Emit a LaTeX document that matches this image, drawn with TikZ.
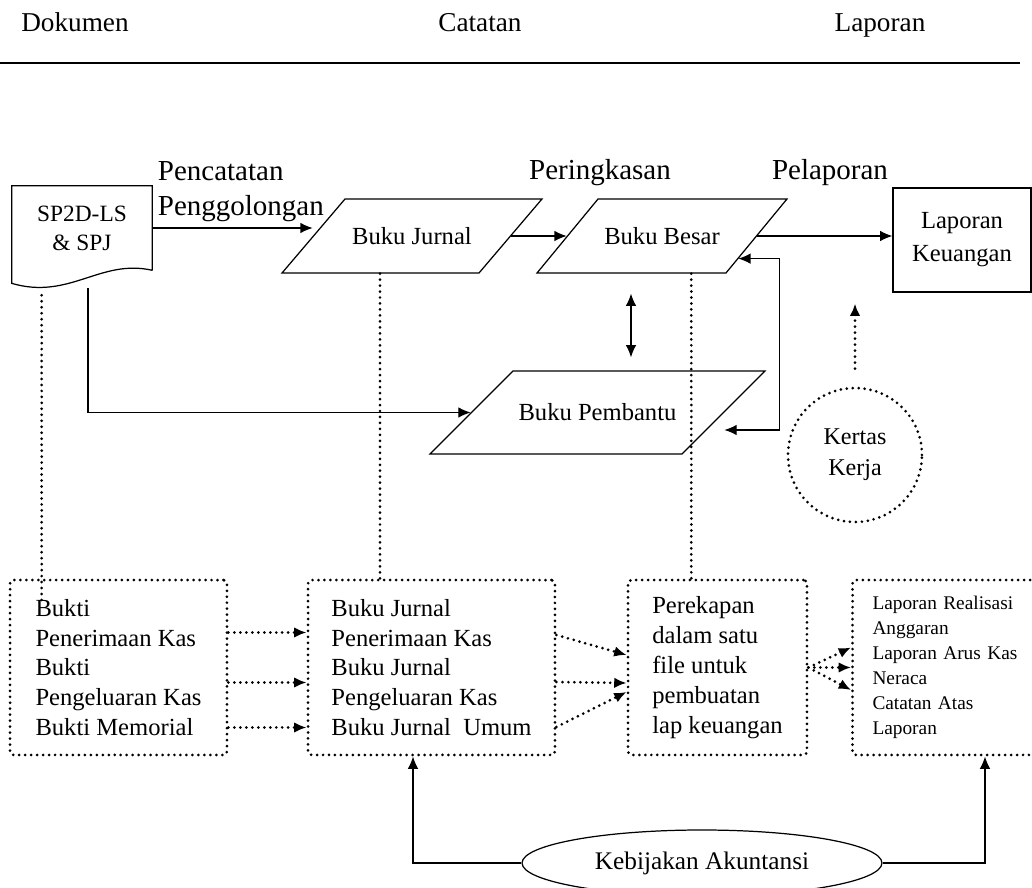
\documentclass[tikz,border=0pt]{standalone}
\usepackage{fontspec}
\setmainfont{Liberation Serif}
\usetikzlibrary{shapes.geometric,arrows.meta,calc}

\tikzset{
  every node/.style={font=\fontsize{14}{17}\selectfont},
  judul/.style={font=\fontsize{15.5}{18}\selectfont, anchor=base},
  lbl/.style={font=\fontsize{16.5}{19.8}\selectfont},
  conn/.style={line width=0.7pt},
  para/.style={trapezium, draw, conn, trapezium stretches body, inner sep=0pt},
  dotline/.style={line width=1.7pt, line cap=round, dash pattern=on 0pt off 3.4pt},
  dotbox/.style={draw, dotline, rounded corners=2pt, align=left, minimum height=3.5cm},
}

\begin{document}
\begin{tikzpicture}[x=0.02cm,y=-0.02cm,>={Latex[length=7pt,width=6pt]}]
\useasboundingbox (0,0) rectangle (1032,888);

% judul kolom
\node[judul] (hdok) at (75,32) {Dokumen};
\node[judul] (hcat) at (480,32) {Catatan};
\node[judul] (hlap) at (880,32) {Laporan};
\draw[line width=1pt] (0,63) -- (1020,63);

% dokumen sumber
\node[align=center, minimum width=2.8cm, minimum height=1.68cm,
      font=\fontsize{13.3}{16.4}\selectfont] (sp2d) at (82,228) {SP2D-LS\\\& SPJ};
\draw[conn] (sp2d.south east) -- (sp2d.north east) -- (sp2d.north west)
   -- ([yshift=-0.26cm]sp2d.south west)
   .. controls ($(sp2d.south west)+(58,30)$) and ($(sp2d.south east)+(-52,-12)$) .. (sp2d.south east);

% buku-buku
\node[para, trapezium left angle=49.6, trapezium right angle=130.4,
      text height=0.905cm, text depth=0.575cm, minimum width=5.2cm] (jurnal) at (412,236) {Buku Jurnal};
\node[para, trapezium left angle=50.5, trapezium right angle=129.5,
      text height=0.905cm, text depth=0.575cm, minimum width=5cm] (besar) at (662,236) {Buku Besar};
\node[para, trapezium left angle=45, trapezium right angle=135,
      text height=0.995cm, text depth=0.665cm, minimum width=6.7cm] (pembantu) at (597.5,412.5) {Buku Pembantu};
\node[draw, conn, align=center, minimum width=2.76cm, minimum height=2.08cm,
      font=\fontsize{14}{18.7}\selectfont] (lapkeu) at (962,240) {Laporan\\Keuangan};
\node[circle, draw, dotline, minimum size=2.68cm, inner sep=0pt, align=center,
      font=\fontsize{13.7}{17.6}\selectfont] (kertas) at (855,455) {Kertas\\Kerja};

% label proses
\node[lbl, anchor=south west, align=left, inner xsep=3pt] (catat) at (sp2d.east) {Pencatatan\\Penggolongan};
\node[lbl, anchor=base] (ringkas) at (600,180) {Peringkasan};
\node[lbl, anchor=base] (lapor) at (830,180) {Pelaporan};

% alur atas
\draw[conn,->] (sp2d.east) -- (sp2d.east -| jurnal.left side);
\draw[conn,->] (jurnal.right side) -- (besar.left side);
\draw[conn,->] (besar.right side) -- (besar.right side -| lapkeu.west);
\draw[conn,<->] ([yshift=-0.4cm]besar.bottom side) -- ([yshift=0.26cm]besar.bottom side |- pembantu.north);
\draw[conn,->] ([xshift=0.12cm,yshift=-0.36cm]sp2d.south) |- (pembantu.left side);
\draw[conn,<->] ([xshift=0.24cm,yshift=0.3cm]besar.bottom right corner) -- ++(41,0)
   |- ([yshift=-0.35cm]pembantu.right side);
\draw[dotline,->] ([yshift=0.36cm]kertas.north) -- ([yshift=-0.22cm]kertas.north |- lapkeu.south);

% kotak rincian
\node[dotbox, minimum width=4.34cm] (bukti) at (118.5,667.5)
  {Bukti\\Penerimaan Kas\\Bukti\\Pengeluaran Kas\\Bukti Memorial};
\node[dotbox, minimum width=4.94cm] (jbox) at (431.5,667.5)
  {Buku Jurnal\\Penerimaan Kas\\Buku Jurnal\\Pengeluaran Kas\\Buku Jurnal\ \ Umum};
\node[dotbox, minimum width=3.58cm] (rekap) at (717.5,667.5)
  {Perekapan\\dalam satu\\file untuk\\pembuatan\\lap keuangan};
\node[dotbox, minimum width=4.1cm, text width=3.3cm, inner xsep=0.4cm,
      font=\fontsize{11}{14.2}\selectfont] (lapbox) at (955,667.5)
  {Laporan Realisasi\\Anggaran\\Laporan Arus Kas\\Neraca\\Catatan Atas\\Laporan};

% garis putus
\draw[dotline] ([xshift=0.6cm,yshift=-0.5cm]sp2d.south west) -- ([xshift=0.6cm,yshift=-0.5cm]sp2d.south west |- bukti.north);
\draw[dotline] (jurnal.bottom side) -- (jurnal.bottom side |- jbox.north);
\draw[dotline] ([xshift=-0.7cm]besar.bottom right corner) -- ([xshift=-0.7cm]besar.bottom right corner |- rekap.north);

\foreach \s in {0.7,-0.3,-1.2}
  \draw[dotline,->] ([yshift=\s cm]bukti.east) -- ([yshift=\s cm]jbox.west);
\foreach \a/\b in {0.65/0.25,-0.29/-0.31,-1.19/-0.49}
  \draw[dotline,->] ([yshift=\a cm]jbox.east) -- ([yshift=\b cm]rekap.west);
\foreach \b in {0.4,0,-0.45}
  \draw[dotline,->] (rekap.east) -- ([yshift=\b cm]lapbox.west);

% kebijakan
\node[ellipse, draw, conn, minimum width=7.2cm, minimum height=1.32cm, inner sep=0pt,
      font=\fontsize{14.4}{17}\selectfont] (kebijakan) at (702,863) {Kebijakan Akuntansi};
\draw[conn,->] (kebijakan.west) -| ([xshift=-0.37cm]jbox.south);
\draw[conn,->] (kebijakan.east) -| ([xshift=0.6cm]lapbox.south);
\end{tikzpicture}
\end{document}
